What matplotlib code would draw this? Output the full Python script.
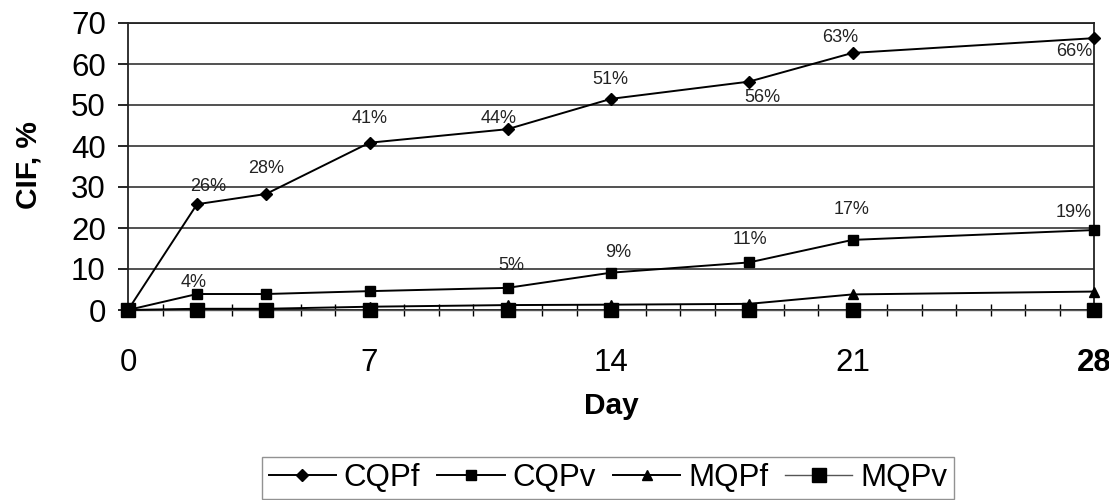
import matplotlib.pyplot as plt

plt.rcParams['font.family'] = ['Liberation Sans', 'DejaVu Sans']

# Dados
dias = [0, 2, 4, 7, 11, 14, 18, 21, 28]
cqpf = [0, 25.8, 28.3, 40.8, 44.1, 51.5, 55.7, 62.7, 66.3]
cqpv = [0, 3.9, 3.9, 4.6, 5.4, 9.1, 11.6, 17.1, 19.5]
mqpf = [0, 0.3, 0.3, 0.8, 1.2, 1.3, 1.5, 3.8, 4.5]
mqpv = [0, 0, 0, 0, 0, 0, 0, 0, 0]

cqpf_rotulos = ['', '26%', '28%', '41%', '44%', '51%', '56%', '63%', '66%']
cqpv_rotulos = ['', '4%', '', '', '5%', '9%', '11%', '17%', '19%']

dias_ticks = [0, 7, 14, 21, 28]
y_ticks = [0, 10, 20, 30, 40, 50, 60, 70]

# deslocamento dos rotulos (pixels)
desl_cqpf = [(0, 0), (11, 18), (0, 25), (0, 24), (-9, 11), (-1, 19), (13, -16), (-12, 15), (-20, -13)]
desl_cqpv = [(0, 0), (-3, 12), (0, 0), (0, 0), (4, 22), (7, 20), (1, 23), (-1, 30), (-20, 18)]

fig = plt.figure(figsize=(11.09, 5.0), dpi=100)
ax = fig.add_axes([128 / 1109, 190 / 500, 966 / 1109, 287 / 500])

ax.plot(dias, cqpf, color='black', lw=1.4, marker='D', ms=6, label='CQPf', clip_on=False, zorder=5)
ax.plot(dias, cqpv, color='black', lw=1.4, marker='s', ms=7, label='CQPv', clip_on=False, zorder=5)
ax.plot(dias, mqpf, color='black', lw=1.4, marker='^', ms=7, label='MQPf', clip_on=False, zorder=5)
ax.plot(dias, mqpv, color='#555555', lw=1.0, marker='s', ms=10, mfc='black', mec='black',
        label='MQPv', clip_on=False, zorder=4)

for x, y, t, d in zip(dias, cqpf, cqpf_rotulos, desl_cqpf):
    if t:
        ax.annotate(t, (x, y), xytext=d, textcoords='offset pixels', ha='center', va='center',
                    fontsize=13, color='#222222')
for x, y, t, d in zip(dias, cqpv, cqpv_rotulos, desl_cqpv):
    if t:
        ax.annotate(t, (x, y), xytext=d, textcoords='offset pixels', ha='center', va='center',
                    fontsize=13, color='#222222')

ax.set_xlim(0, 28)
ax.set_ylim(0, 70)
ax.set_yticks(y_ticks)
ax.set_xticks(dias_ticks)
ax.set_xticks(range(0, 29), minor=True)
ax.tick_params(axis='y', labelsize=22.5, length=7, width=1.2, direction='out', pad=9)
ax.tick_params(axis='x', which='both', direction='inout', length=9, width=1.0, labelsize=22.5, pad=23)
for lbl in ax.get_xticklabels():
    if lbl.get_text() == '28':
        lbl.set_fontweight('bold')

ax.grid(axis='y', color='#333333', lw=1.2)
ax.set_axisbelow(True)
for s in ax.spines.values():
    s.set_color('#222222')
    s.set_linewidth(1.3)

ax.set_ylabel('CIF, %', fontsize=21.5, fontweight='bold')
ax.yaxis.set_label_coords(-0.089, 0.505)
ax.set_xlabel('Day', fontsize=21.5, fontweight='bold')
ax.xaxis.set_label_coords(0.5, -0.285)

fig.legend(loc='center', bbox_to_anchor=(608 / 1109, 1 - 478 / 500), ncol=4, fontsize=22.5,
           frameon=True, fancybox=False, edgecolor='#777777', handlelength=2.15,
           handletextpad=0.25, columnspacing=0.55, borderpad=0.2)

plt.savefig('out.png', dpi=100)
